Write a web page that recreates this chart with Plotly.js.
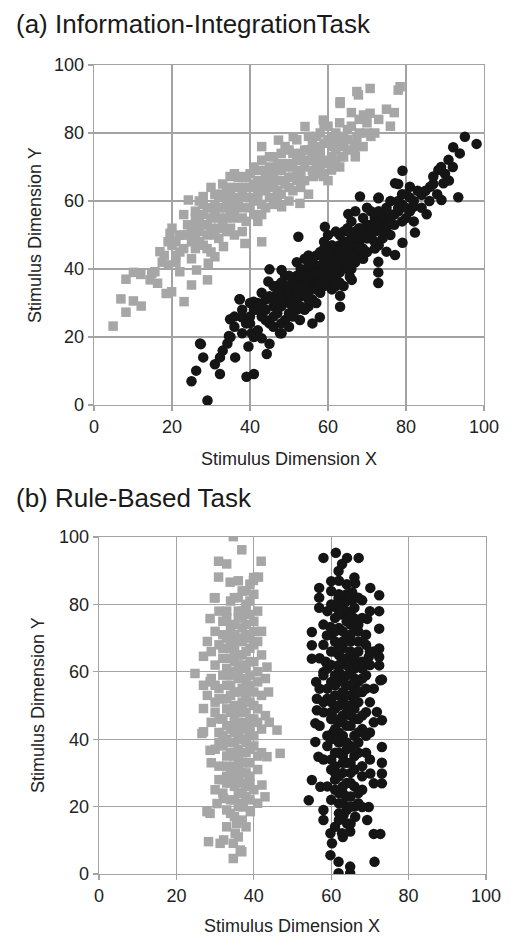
<!DOCTYPE html>
<html>
<head>
<meta charset="utf-8">
<script src="https://cdn.plot.ly/plotly-3.0.1.min.js"></script>
<style>html,body{margin:0;padding:0;background:#fff;}#chart{width:511px;height:940px;}</style>
</head>
<body>
<div id="chart"></div>
<script>
// Panel titles and axis labels
const panelTitles = ["(a) Information-IntegrationTask", "(b) Rule-Based Task"];
const xTitle = "Stimulus Dimension X";
const yTitle = "Stimulus Dimension Y";
const tickVals = [0, 20, 40, 60, 80, 100];

// (a) Information-Integration task: category A (gray squares) [x, y]
const aGray = [
[4.9,23.2],[6.9,31.2],[8.2,27.3],[10.1,30.6],[12.1,29.1],[8.2,37],[10.1,39],[12,38.4],[14.4,36.8],[14.8,38.7],[16.3,35.8],[16.9,45.1],[18.5,32.8],[19.9,33.3],[23.1,30.4],[25,35.3],[29.1,36.8],[19.1,41.2],[22,39.2],[26.3,39.7],[15.6,39.2],[19.5,50.5],[24.2,60.3],[28,61.3],[34.9,67.2],[37.9,67.2],[43,76],[47.3,77.9],[51.1,78.9],[54.1,81.9],[58.8,83.8],[63.1,88.7],[67.8,91.2],[70.8,85.8],[69.1,85.3],[78,92.6],[67.4,78.4],[66.9,75.5],[63.5,73],[60.9,69.1],[58.8,67.2],[56.2,67.2],[52.8,59.3],[48.1,58.3],[43,48],[38.7,47.5],[33.2,46.6],[31,43.6],[29.3,41.7],[63.1,89.2],[67.4,92.2],[70.8,93.1],[78.5,93.6],[17.5,42],[21,44],
[18,44],[20,47],[21,42],[22,50],[23,46],[24,53],[25,48],[20,52],[23,56],[25,43],[22,45],[19,48],
[26,50],[27,55],[28,47],[29,58],[30,52],[31,62],[32,49],[26,57],[28,53],[30,45],[31,56],[27,60],[29,50],[32,58],[30,64],[26,46],
[33,53],[34,60],[35,57],[36,50],[37,64],[38,55],[39,61],[40,58],[33,65],[35,62],[36,68],[38,51],[39,67],[34,55],[37,59],[40,64],[32,61],[35,52],[38,62],[36,57],
[41,60],[42,66],[43,56],[44,63],[45,70],[46,59],[47,66],[48,62],[41,70],[43,72],[44,58],[45,65],[46,73],[47,61],[48,69],[42,54],[40,68],[44,67],[46,64],[48,74],
[49,65],[50,71],[51,63],[52,68],[53,74],[54,66],[55,72],[56,69],[49,76],[50,60],[51,70],[52,78],[53,64],[54,75],[55,62],[56,77],[50,67],[53,69],
[57,71],[58,75],[59,68],[60,78],[61,73],[62,80],[63,70],[64,76],[57,79],[59,82],[60,66],[61,76],[62,72],[63,83],[64,79],[58,70],
[65,78],[66,82],[67,73],[68,80],[69,76],[70,83],[71,79],[66,86],[72,80],
[73,84],[75,87],[77,86],[76,82],
[24,50],[26,53],[27,48],[28,56],[29,53],[30,58],[31,50],[32,55],[33,58],[34,51],[35,60],[36,55],[37,61],[38,58],[39,54],[40,61],[41,56],[42,63],[43,59],[44,66],[45,61],[46,68],[47,63],[48,66],[49,70],[50,64],[51,67],[52,72],[53,67],[54,70],[55,75],[56,72],[57,68],[58,73],[59,77],[60,72],[61,79],[62,75],[63,78],[64,73],[65,81],[67,77],[68,84],[70,80],[21,48],[23,50],[25,52],[27,51],[29,46],[31,59],[34,63],[37,67],[39,64],[42,69],[45,73],[47,71],[50,75],[55,79],[58,80],[60,82],
[36,59],[38,64],[41,65],[43,64],[44,69],[46,66],[48,71],[51,74],[53,72],[56,74],[59,71],[61,70],[62,77],[33,62],[35,64],[30,55],[28,59],[26,55],[32,52],[34,58],[42,61],[47,69],[52,66],[57,76],[65,75]
];

// (a) category B (black circles) [x, y]
const aBlack = [
[29.1,1.3],[25,7],[26.2,10.1],[27.4,17.9],[28,14],[32.3,14],[32.3,9.1],[36.2,14],[39.1,8.3],[41,9.1],[44.3,15],[39.6,17.2],[34.2,18.1],[34.6,20.3],[37.4,31.1],[34.9,25.2],[37.9,25.8],[38,21.1],[40.4,21.1],[43,19.6],[40.9,30.4],[45,39.9],[48.1,39.7],[44.7,36.3],[47.7,21.1],[82.3,50.7],[79.1,47.7],[77.2,44.1],[75,45.1],[72.9,42.1],[72.9,39],[72.9,35.9],[66.1,36.8],[63.1,32.1],[63.1,28.9],[57.9,25.8],[56,24],[48.1,21.1],[52.8,25],[95.1,78.9],[98.1,76.8],[92.1,75.8],[93.8,74],[90.9,72.1],[88.3,69.1],[87,67.2],[89.6,65.2],[86.2,64.2],[84,61.8],[89.1,60.3],[93.4,61.1],[79.1,68.9],[77.2,65.2],[81,64.2],[68.2,61.3],[72.9,60.8],[65.2,56.2],[85.3,56.1],[81.9,58.3],[52.4,49.5],[59.2,52.4],[65.6,37.7],[27.2,18.1],[37.3,31.1],[36,23],[40,26],[42,28],
[40,24],[41,28],[42,22],[43,26],[44,31],[45,24],[46,29],[41,20],[43,33],[45,18],[46,35],[42,30],[44,25],[40,30],
[47,27],[48,33],[49,25],[50,30],[51,36],[52,28],[47,35],[48,24],[49,38],[50,23],[51,31],[52,42],[46,31],[49,31],[50,35],[51,26],[47,30],[52,35],
[53,32],[54,38],[55,29],[56,35],[57,41],[58,33],[53,40],[54,28],[55,44],[56,31],[57,37],[58,45],[53,36],[55,36],[57,30],[54,43],[56,40],[58,38],[55,33],[52,38],
[59,40],[60,36],[61,44],[62,38],[63,47],[64,41],[59,46],[60,50],[61,34],[62,43],[63,36],[64,48],[60,42],[62,51],[59,35],[61,39],[63,42],[64,35],
[65,44],[66,50],[67,42],[68,48],[69,55],[70,45],[65,52],[66,40],[67,57],[68,52],[69,43],[70,51],[66,46],[68,44],[70,58],[65,48],
[71,49],[72,55],[73,47],[74,53],[75,58],[76,50],[71,57],[72,46],[73,61],[74,49],[75,55],[76,60],[72,51],
[77,56],[78,60],[79,54],[80,62],[81,57],[82,60],[83,63],[78,65],[80,55],[84,58],[79,59],[82,54],
[85,63],[86,60],[87,65],[88,62],[90,68],[91,66],[89,70],[92,70],
[33,16],[35,20],[36,26],[38,28],[39,24],[31,12],
[44,28],[45,32],[46,26],[47,33],[48,29],[49,35],[50,27],[51,33],[52,31],[53,35],[54,33],[55,39],[56,37],[57,34],[58,41],[59,38],[60,44],[61,41],[62,46],[63,39],[64,45],[65,42],[66,48],[67,45],[68,50],[69,46],[70,53],[71,50],[72,48],[73,54],[74,51],[75,52],[76,56],[77,53],[78,57],[79,62],[80,58],[81,61],[53,29],[55,41],[57,44],[59,43],[61,47],[63,44],[65,40],[67,51],[69,52],[71,53],[73,57],[50,38],[48,36],[46,23],[43,29],[54,35],[56,43],[58,36],[60,39],[62,35],[64,51],[66,54],
[48,31],[50,33],[52,33],[54,37],[56,38],[58,39],[60,46],[62,41],[64,43],[66,44],[68,46],[70,49],[72,53],[74,56],[76,54],[78,58],[51,29],[53,38],[55,31],[57,39],[59,48],[61,37],[63,50],[65,46],[67,49]
];

// (b) Rule-Based task: category A (gray squares) [x, y]
const bGray = [
[34.7,100.1],[36.9,96.2],[30.9,92.8],[33,92],[41.9,92.8],[30.9,88.1],[29.8,81.9],[33.9,86.6],[41.2,88.1],[28.7,75.8],[27,64.6],[27,56],[27,49.1],[27,42.2],[43.4,61.4],[43.8,54],[46,42.7],[46.8,35.8],[42.9,22.9],[28.7,18],[28.3,9.6],[31.3,9.1],[35.2,12.1],[36.5,7.1],[34.7,4.6],[24.8,59.5],[28.7,57],[26.6,41.7],[28.7,36.7],[43.4,34.8],[42.1,26.4],[27.9,18.5],[32.2,10.1],[36.9,6.6],[34.7,9.1],[35.6,15],[30.5,20.9],[32.2,22.4],[37.3,19.9],[39.1,18.5],[30,82],[39.9,87.1],
[35,82],[37,84],[39,86],[40,83],[38,80],[36,87],[34,81],[40,88],
[30,72],[32,75],[33,78],[35,71],[36,76],[37,73],[38,79],[39,70],[40,75],[41,78],[34,74],[31,78],[36,70],[42,72],[39,77],
[29,66],[30,62],[31,68],[32,64],[33,61],[34,67],[35,63],[36,69],[37,65],[38,61],[39,67],[40,63],[41,69],[42,65],[33,70],[36,62],[38,66],[35,60],[28,69],
[28,53],[29,58],[30,51],[31,55],[32,59],[33,52],[34,56],[35,50],[36,54],[37,58],[38,52],[39,56],[40,50],[41,57],[42,53],[37,51],[34,59],[31,52],[43,58],
[29,45],[30,48],[31,42],[32,46],[33,49],[34,43],[35,47],[36,41],[37,45],[38,48],[39,42],[40,46],[41,49],[42,43],[43,47],[33,40],[36,48],[39,44],[44,45],
[29,33],[30,37],[31,32],[32,38],[33,35],[34,31],[35,39],[36,34],[37,30],[38,36],[39,33],[40,38],[41,31],[42,36],[35,32],[38,39],[31,39],
[30,25],[31,28],[32,24],[33,29],[34,22],[35,26],[36,20],[37,27],[38,23],[39,29],[40,25],[41,21],[36,24],[34,27],
[33,14],[34,18],[36,11],[37,16],[35,17],[38,14],
[33,76],[35,74],[37,78],[39,81],[34,69],[36,65],[38,71],[40,68],[32,67],[35,66],[37,62],[39,59],[33,56],[35,54],[37,55],[39,51],[34,48],[36,45],[38,43],[40,41],[33,44],[35,42],[37,40],[39,37],[34,36],[36,37],[38,33],[35,29],[37,33],[39,27],[36,28],[38,26],[32,41],[31,46],[30,56],[32,52],[41,60],[40,54],[41,45],[41,35],[33,32],[32,28],[36,82],[38,84],[37,76],[34,64],[36,60],[38,57],[40,72],[32,71],
[34,72],[36,78],[38,74],[37,69],[35,68],[39,63],[36,58],[38,54],[34,53],[37,49],[35,45],[39,46],[36,43],[38,40],[34,39],[36,31],[38,30],[35,35],[37,36],[33,27],[37,24],[39,22],[33,19],[35,22],[37,21]
];

// (b) category B (black circles) [x, y]
const bBlack = [
[58,93.8],[61.2,95.3],[64.1,93.8],[67.1,93.8],[62.8,92],[61.9,89.9],[60,86.9],[56.9,84.9],[56.9,82],[56.9,79],[66.2,86.3],[70.1,84.9],[72.4,82.7],[65.4,83.6],[65.4,81.2],[68,81.2],[61.9,82],[61.1,79.2],[62.8,77.2],[72.4,78],[69.3,75.7],[65.8,76],[72.4,72.8],[55,71.8],[55,67.9],[55,63.9],[72.4,66.9],[72.4,64.4],[72.4,61.9],[73.1,57.7],[56.1,57],[58,59.9],[59.8,73.3],[58.9,70.8],[69.7,64.4],[54.2,21.9],[55,27.9],[57.2,25.9],[58,19],[58,16],[59.8,12.1],[60.2,9.1],[59.8,5.6],[61.9,3.6],[61.9,0.2],[64.9,2.2],[64.9,0.2],[62.8,12.1],[64.9,12.6],[64.1,15],[63.2,17.5],[66.2,17],[69.3,16],[71,11.9],[72.7,11.9],[71.2,3.6],[69.7,19.9],[68,19.9],[71,26.9],[73.1,26.9],[73.1,29.8],[73.1,33],[73.1,37.7],[70.1,29.8],[56.7,34.8],[55.9,39.2],[55.9,44.7],[56.3,48.6],[56.3,52],[73.1,45.6],[71.8,48.1],[72.7,57.5],[58.6,63],[60.5,42],
[60,84],[62,87],[64,83],[66,88],[63,80],[67,82],
[58,74],[59,78],[60,71],[61,76],[62,73],[63,77],[64,70],[65,74],[66,79],[67,72],[68,76],[69,71],[70,78],[61,80],[64,78],
[57,64],[58,68],[59,61],[60,66],[61,69],[62,62],[63,67],[64,64],[65,69],[66,61],[67,66],[68,63],[69,68],[70,62],[71,66],[62,65],[65,63],
[57,55],[58,59],[59,52],[60,57],[61,53],[62,58],[63,51],[64,56],[65,60],[66,52],[67,57],[68,54],[69,59],[70,51],[71,55],[60,51],[64,53],[66,58],
[57,44],[58,48],[59,41],[60,46],[61,49],[62,42],[63,47],[64,44],[65,50],[66,41],[67,46],[68,43],[69,48],[70,42],[71,45],[62,45],[65,44],
[58,34],[59,38],[60,31],[61,36],[62,39],[63,33],[64,37],[65,30],[66,35],[67,39],[68,32],[69,36],[70,34],[63,30],[61,32],
[59,26],[60,22],[61,28],[62,24],[63,21],[64,27],[65,23],[66,26],[67,21],[68,25],[62,29],
[61,14],[62,18],[63,11],[64,19],[65,15],
[60,80],[62,77],[64,81],[66,75],[63,72],[65,71],[67,69],[61,66],[63,63],[65,66],[67,62],[60,62],[62,60],[64,59],[66,55],[68,58],[61,56],[63,54],[65,53],[67,51],[62,50],[64,48],[66,46],[68,47],[60,48],[61,43],[63,41],[65,38],[67,36],[62,36],[64,33],[66,31],[68,29],[60,34],[61,25],[63,26],[65,27],[67,24],[62,21],[64,23],[66,20],[60,40],[59,55],[58,51],[69,41],[69,55],[70,66],[68,69],[66,73],[64,75],[62,83],[64,86],
[61,72],[63,69],[65,77],[67,74],[62,67],[64,62],[66,64],[68,61],[61,59],[63,57],[65,56],[67,54],[62,53],[64,50],[66,49],[61,46],[63,45],[65,47],[67,42],[62,40],[64,39],[66,37],[63,35],[65,33],[61,30],[63,24],[65,20],[62,16]
];

const GRAY = '#a6a6a6', BLACK = '#151515', GRID = '#a3a3a3';
const FONT = 'Liberation Sans, Arial, sans-serif';

function sq(pts, xa, ya) {
  return {type:'scatter', mode:'markers', x:pts.map(p=>p[0]), y:pts.map(p=>p[1]), xaxis:xa, yaxis:ya,
    marker:{symbol:'square', size:9.5, color:GRAY, line:{width:0}}, hoverinfo:'skip'};
}
function ci(pts, xa, ya) {
  return {type:'scatter', mode:'markers', x:pts.map(p=>p[0]), y:pts.map(p=>p[1]), xaxis:xa, yaxis:ya,
    marker:{symbol:'circle', size:10.5, color:BLACK, line:{width:0}}, hoverinfo:'skip'};
}

function ax(domain, anchor) {
  return {domain:domain, anchor:anchor, range:[0,100], tickvals:tickVals, ticktext:tickVals.map(String),
    showgrid:true, gridcolor:GRID, gridwidth:1.3, zeroline:false,
    showline:true, mirror:true, linecolor:GRID, linewidth:1.3,
    ticks:'outside', ticklen:5, tickcolor:GRID, tickwidth:1.3,
    tickfont:{family:FONT, size:18, color:'#222'}, fixedrange:true};
}

const W = 511, H = 940;
const px = v => v / W, py = v => 1 - v / H;

const layout = {
  width:W, height:H, margin:{l:0,r:0,t:0,b:0}, showlegend:false,
  paper_bgcolor:'#fff', plot_bgcolor:'#fff',
  xaxis: ax([px(94), px(484)], 'y'),
  yaxis: ax([py(405), py(65)], 'x'),
  xaxis2: ax([px(99), px(486)], 'y2'),
  yaxis2: ax([py(874), py(537)], 'x2'),
  annotations: [
    {text:panelTitles[0], xref:'paper', yref:'paper', x:px(14), y:py(24), xanchor:'left', yanchor:'middle', showarrow:false, font:{family:FONT, size:26, color:'#1a1a1a'}},
    {text:panelTitles[1], xref:'paper', yref:'paper', x:px(14), y:py(498), xanchor:'left', yanchor:'middle', showarrow:false, font:{family:FONT, size:26, color:'#1a1a1a'}},
    {text:xTitle, xref:'paper', yref:'paper', x:px(289), y:py(459), xanchor:'center', yanchor:'middle', showarrow:false, font:{family:FONT, size:18, color:'#222'}},
    {text:xTitle, xref:'paper', yref:'paper', x:px(292), y:py(926), xanchor:'center', yanchor:'middle', showarrow:false, font:{family:FONT, size:18, color:'#222'}},
    {text:yTitle, xref:'paper', yref:'paper', x:px(35), y:py(235), xanchor:'center', yanchor:'middle', textangle:-90, showarrow:false, font:{family:FONT, size:18, color:'#222'}},
    {text:yTitle, xref:'paper', yref:'paper', x:px(38), y:py(705), xanchor:'center', yanchor:'middle', textangle:-90, showarrow:false, font:{family:FONT, size:18, color:'#222'}}
  ]
};

Plotly.newPlot('chart', [sq(aGray,'x','y'), ci(aBlack,'x','y'), sq(bGray,'x2','y2'), ci(bBlack,'x2','y2')], layout, {staticPlot:true, displayModeBar:false});
</script>
</body>
</html>
